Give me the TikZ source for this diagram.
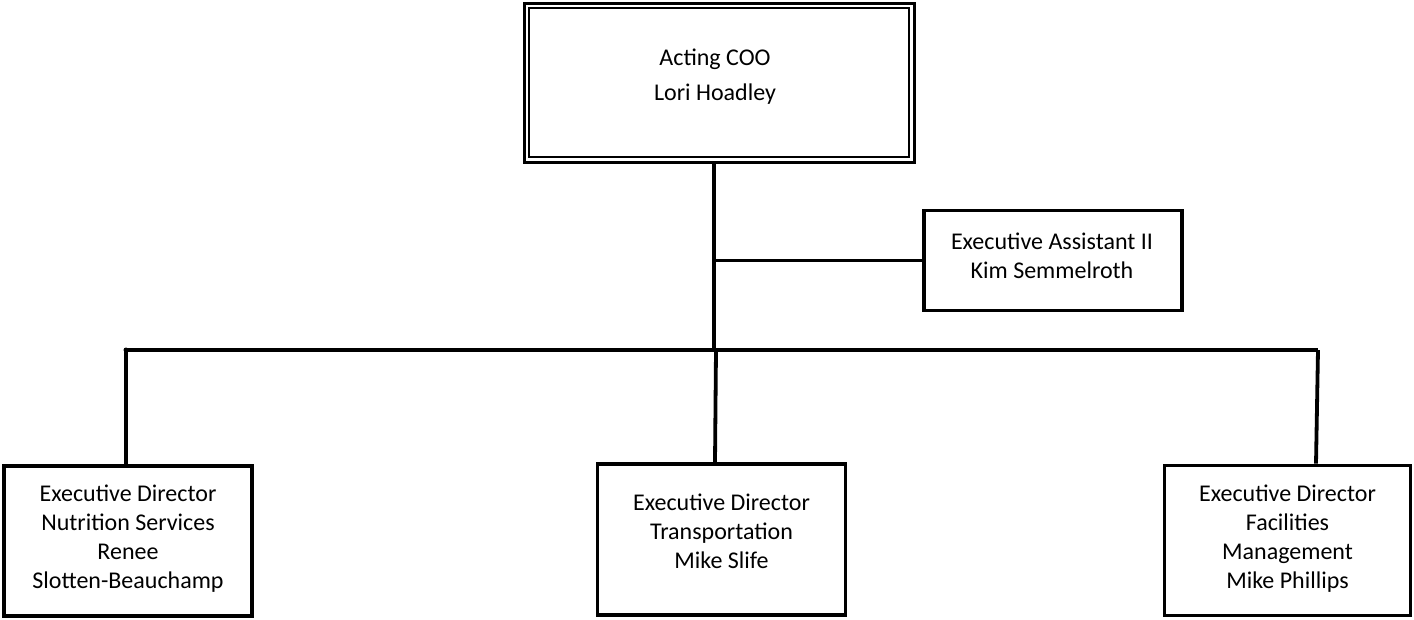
\documentclass[tikz,border=0pt]{standalone}
\usepackage{fontspec}
\setmainfont{Carlito}
\begin{document}
\begin{tikzpicture}[x=1pt,y=-1pt,
  box/.style={draw=black, line width=3.8pt, rectangle, inner sep=0pt},
  lbl/.style={align=center, font=\fontsize{24}{29}\selectfont},
  conn/.style={draw=black, line width=3.8pt}]
\useasboundingbox (0,0) rectangle (1414,619);
% top box (double border)
\node[draw=black, line width=3pt, minimum width=390, minimum height=159, inner sep=0pt] (coo) at (719,82.5) {};
\node[draw=black, line width=2pt, minimum width=380, minimum height=149, inner sep=0pt] (cooin) at (719,82.5) {};
\node[align=center, font=\fontsize{24}{35}\selectfont] (cootext) at (715,77) {Acting COO\\Lori Hoadley};
% assistant
\node[box, minimum width=258, minimum height=100] (asst) at (1053,260.5) {};
\node[lbl] (assttext) at (1052,256) {Executive Assistant II\\Kim Semmelroth};
% bottom boxes
\node[box, minimum width=248, minimum height=150] (nut) at (128,541) {};
\node[lbl] (nuttext) at (128,539) {Executive Director\\Nutrition Services\\Renee\\Slotten-Beauchamp};
\node[box, minimum width=248, minimum height=151] (tra) at (721.5,539.5) {};
\node[lbl] (tratext) at (721.5,531) {Executive Director\\Transportation\\Mike Slife};
\node[box, minimum width=246, minimum height=150] (fac) at (1287.5,540.5) {};
\node[lbl] (factext) at (1287.5,539) {Executive Director\\Facilities\\Management\\Mike Phillips};
% connectors
\coordinate (top) at (714,163);
\coordinate (busc) at (714,350);
\coordinate (busl) at (126,350);
\coordinate (busr) at (1318,350);
\draw[conn] (coo.south -| top) -- (busc);
\draw[conn] (asst.west -| top) -- (asst.west);
\draw[conn] (busl) -- (busr);
\draw[conn] (busl) -- (busl |- nut.north);
\draw[conn] (busc) ++(2,0) -- (tra.north -| 715,0);
\draw[conn] (busr) -- (1316,0 |- fac.north);
\fill (busl) circle (2.5);
\end{tikzpicture}
\end{document}
